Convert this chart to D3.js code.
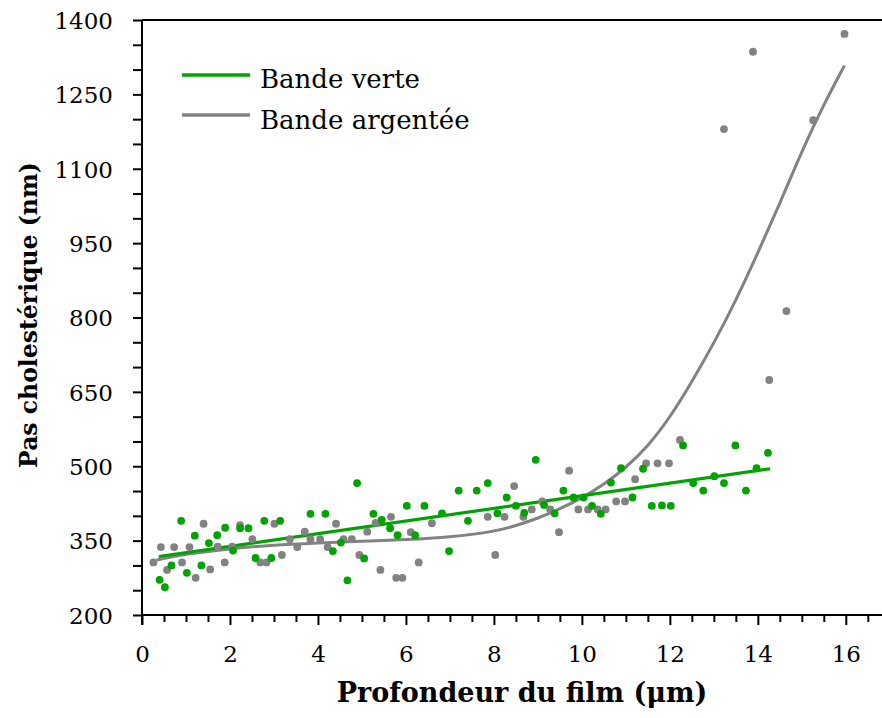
<!DOCTYPE html>
<html>
<head>
<meta charset="utf-8">
<script src="https://cdn.jsdelivr.net/npm/d3@7"></script>
<style>
  html, body { margin: 0; padding: 0; background: #fff; }
  svg { display: block; }
  text { font-family: "DejaVu Serif", "Liberation Serif", serif; fill: #000; }
</style>
</head>
<body>
<svg id="chart" width="882" height="718"></svg>
<script>
// ---- data ----
const seriesNames = ["Bande verte", "Bande argentée"];

// green band: depth (µm), pitch (nm)
const greenX = [0.40,0.52,0.67,0.89,1.02,1.20,1.35,1.52,1.71,1.89,2.07,2.23,2.42,2.58,2.78,2.94,3.14,3.83,4.17,4.34,4.52,4.67,4.89,5.05,5.26,5.45,5.64,5.81,6.02,6.21,6.42,6.82,6.98,7.20,7.41,7.61,7.86,8.08,8.29,8.50,8.69,8.95,9.14,9.38,9.58,9.81,10.04,10.23,10.43,10.66,10.89,11.15,11.39,11.59,11.82,12.02,12.30,12.53,12.76,13.01,13.23,13.49,13.73,13.97,14.23];
const greenY = [271,256,300,390,285,360,300,345,361,376,330,375,375,315,390,315,390,404,404,329,346,270,466,314,404,392,375,361,420,361,420,405,329,451,390,451,466,405,437,420,406,513,422,405,451,437,437,420,404,467,496,437,495,420,421,420,542,466,451,480,466,542,451,496,527];

// silver band: depth (µm), pitch (nm)
const grayX = [0.26,0.43,0.57,0.73,0.91,1.08,1.22,1.40,1.55,1.72,1.88,2.05,2.23,2.51,2.69,2.83,3.01,3.18,3.36,3.53,3.70,3.83,4.05,4.22,4.41,4.58,4.77,4.94,5.12,5.31,5.42,5.66,5.78,5.92,6.11,6.29,6.59,7.86,8.03,8.24,8.46,8.67,8.86,9.10,9.28,9.48,9.71,9.92,10.14,10.36,10.54,10.78,10.98,11.21,11.46,11.72,11.98,12.23,13.23,13.89,14.26,14.65,15.26,15.97];
const grayY = [306,337,291,337,306,337,275,384,292,338,306,338,381,353,306,306,384,321,353,337,368,353,353,337,384,353,353,321,368,386,291,398,275,275,367,306,385,398,321,398,460,398,413,429,413,367,491,413,413,413,413,429,429,474,506,506,506,553,1180,1336,674,813,1198,1372];

// fitted trends
const greenFitX = [0.38, 14.28];
const greenFitY = [318, 495];
const grayFitX = [0.33,1,2,3,4,5,6,7,8,8.5,9,9.5,10,10.5,11,11.5,12,12.5,13,13.5,14,14.5,15,15.5,15.97];
const grayFitY = [311,323,334,341,345,349,352,357,368,380,395,414,436,463,497,540,598,670,748,834,930,1030,1135,1230,1308];

const xMajorTicks = [0,2,4,6,8,10,12,14,16];
const yMajorTicks = [200,350,500,650,800,950,1100,1250,1400];
const xLabel = "Profondeur du film (μm)";
const yLabel = "Pas cholestérique (nm)";

// ---- drawing ----
const GREEN = "#00a300", GRAY = "#828282";
const svg = d3.select("#chart");
const x = d3.scaleLinear().domain([0, 16.8]).range([142, 881]);
const y = d3.scaleLinear().domain([200, 1400]).range([615, 20]);

// fitted lines
svg.append("path")
  .datum(grayFitX.map((v, i) => [v, grayFitY[i]]))
  .attr("d", d3.line().x(d => x(d[0])).y(d => y(d[1])).curve(d3.curveBasis))
  .attr("fill", "none").attr("stroke", GRAY).attr("stroke-width", 3);
svg.append("path")
  .datum(greenFitX.map((v, i) => [v, greenFitY[i]]))
  .attr("d", d3.line().x(d => x(d[0])).y(d => y(d[1])))
  .attr("fill", "none").attr("stroke", GREEN).attr("stroke-width", 3.2);

// points
svg.append("g").selectAll("circle")
  .data(grayX.map((v, i) => [v, grayY[i]]))
  .join("circle")
  .attr("cx", d => x(d[0])).attr("cy", d => y(d[1])).attr("r", 3.9)
  .attr("fill", GRAY);
svg.append("g").selectAll("circle")
  .data(greenX.map((v, i) => [v, greenY[i]]))
  .join("circle")
  .attr("cx", d => x(d[0])).attr("cy", d => y(d[1])).attr("r", 3.9)
  .attr("fill", GREEN);

// top frame line
svg.append("line")
  .attr("x1", x(0)).attr("x2", 882).attr("y1", y(1400)).attr("y2", y(1400))
  .attr("stroke", "#000").attr("stroke-width", 2);

// x axis: minor ticks
const xMinor = d3.range(0, 16.51, 0.5).filter(v => v % 2 !== 0);
svg.append("g").attr("transform", `translate(0,${y(200)})`)
  .call(d3.axisBottom(x).tickValues(xMinor).tickSize(7).tickSizeOuter(0).tickFormat(""))
  .call(g => g.select(".domain").attr("stroke-width", 2).attr("d", `M${x(0)},0H882`))
  .call(g => g.selectAll(".tick line").attr("stroke-width", 2));
svg.append("g").attr("transform", `translate(0,${y(200)})`)
  .call(d3.axisBottom(x).tickValues(xMajorTicks).tickSize(10).tickSizeOuter(0).tickFormat(d3.format("d")))
  .call(g => g.select(".domain").remove())
  .call(g => g.selectAll(".tick line").attr("stroke-width", 2))
  .call(g => g.selectAll(".tick text").attr("y", 47).attr("dy", 0)
      .attr("font-size", 23).attr("font-family", "DejaVu Serif"));

// y axis
const yMinor = d3.range(200, 1401, 50).filter(v => !yMajorTicks.includes(v));
svg.append("g").attr("transform", `translate(${x(0)},0)`)
  .call(d3.axisLeft(y).tickValues(yMinor).tickSize(9).tickSizeOuter(0).tickFormat(""))
  .call(g => g.select(".domain").attr("stroke-width", 2).attr("d", `M0,${y(1400)}V${y(200) + 10}`))
  .call(g => g.selectAll(".tick line").attr("stroke-width", 2));
svg.append("g").attr("transform", `translate(${x(0)},0)`)
  .call(d3.axisLeft(y).tickValues(yMajorTicks).tickSize(9).tickSizeOuter(0).tickFormat(d3.format("d")))
  .call(g => g.select(".domain").remove())
  .call(g => g.selectAll(".tick line").attr("stroke-width", 2))
  .call(g => g.selectAll(".tick text").attr("x", -29).attr("dy", "0.36em")
      .attr("font-size", 23).attr("font-family", "DejaVu Serif"));

// axis titles
svg.append("text")
  .attr("x", 522).attr("y", 702).attr("text-anchor", "middle")
  .attr("font-size", 27).attr("font-weight", "bold").text(xLabel);
svg.append("text")
  .attr("transform", `translate(37,315) rotate(-90)`).attr("text-anchor", "middle")
  .attr("font-size", 23.5).attr("font-weight", "bold").text(yLabel);

// legend
const legend = svg.append("g");
[[GREEN, 75, 88], [GRAY, 115, 129]].forEach((s, i) => {
  legend.append("line").attr("x1", 182).attr("x2", 250).attr("y1", s[1]).attr("y2", s[1])
    .attr("stroke", s[0]).attr("stroke-width", 3.5);
  legend.append("text").attr("x", 260).attr("y", s[2]).attr("font-size", 26).text(seriesNames[i]);
});
</script>
</body>
</html>
